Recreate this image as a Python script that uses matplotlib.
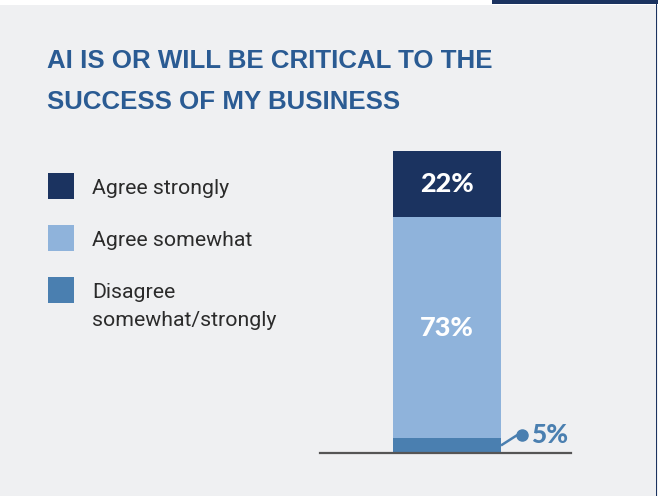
import matplotlib.pyplot as plt
from matplotlib.patches import Rectangle

# Survey answers, share of respondents (%)
CATEGORIES = [["Disagree", "somewhat/strongly"], ["Agree somewhat"],
              ["Agree strongly"]]
SHARES = [5, 73, 22]
LABELS = ["5%", "73%", "22%"]
LEGEND_ORDER = [2, 1, 0]

BG = "#eff0f2"
NAVY = "#1b3360"
LIGHT = "#8fb3db"
MID = "#4a7fb0"
TITLE_BLUE = "#2a5b93"
COLORS = [MID, LIGHT, NAVY]

W, H = 658, 496


def fx(px):
    return px / W


def fy(py):
    return 1 - py / H


fig = plt.figure(figsize=(W / 100, H / 100), dpi=100)
fig.patch.set_facecolor(BG)

# white strip along the top edge, navy tab at the right
fig.add_artist(Rectangle((0, fy(5)), 1, 5 / H, transform=fig.transFigure,
                         facecolor="white", edgecolor="none"))
fig.add_artist(Rectangle((fx(492), fy(4)), 1 - fx(492), 4 / H,
                         transform=fig.transFigure, facecolor=NAVY,
                         edgecolor="none"))
fig.add_artist(Rectangle((fx(656), 0), 1.2 / W, 1, transform=fig.transFigure,
                         facecolor=NAVY, edgecolor="none"))

# title
title_font = dict(family="Liberation Sans", weight="bold", size=18.6,
                  color=TITLE_BLUE, va="baseline", ha="left")
fig.text(fx(47), fy(68), "AI IS OR WILL BE CRITICAL TO THE", **title_font)
fig.text(fx(47), fy(109), "SUCCESS OF MY BUSINESS", **title_font)

# legend: squares + labels (one text per line)
square_tops = [173, 225, 277]
baselines = [194, 246, 298]
for row, idx in enumerate(LEGEND_ORDER):
    fig.add_artist(Rectangle((fx(48), fy(square_tops[row] + 26)), 26 / W,
                             26 / H, transform=fig.transFigure,
                             facecolor=COLORS[idx], edgecolor="none"))
    for k, line in enumerate(CATEGORIES[idx]):
        fig.text(fx(92), fy(baselines[row] + 28 * k), line, family="Roboto",
                 size=15.3, color="#2b2b2b", va="baseline", ha="left")

# stacked bar
ax = fig.add_axes([fx(320), fy(453), fx(571) - fx(320), (453 - 151) / H])
ax.set_facecolor("none")
ax.set_xlim(0, 1)
ax.set_ylim(0, sum(SHARES))
ax.axis("off")

bar_x = 0.506
bar_w = 0.43
bottom = 0
for i, share in enumerate(SHARES):
    ax.bar(bar_x, share, width=bar_w, bottom=bottom, color=COLORS[i],
           linewidth=0)
    if i > 0:
        ax.text(bar_x, bottom + share / 2, LABELS[i], color="white",
                family="Lato", weight="black", size=19.5, ha="center",
                va="center")
    bottom += share

ax.axhline(0, color="#555555", linewidth=1.6, clip_on=False)

# leader line for the small segment
right = bar_x + bar_w / 2
ax.plot([right, right + 0.064, right + 0.085],
        [SHARES[0] / 2, 5.9, 5.9], color=MID, linewidth=1.8,
        solid_capstyle="butt", clip_on=False)
ax.plot(right + 0.085, 5.9, "o", color=MID, markersize=8, clip_on=False)
ax.text(right + 0.118, 5.9, LABELS[0], color=MID, family="Lato",
        weight="black", size=19, ha="left", va="center")

fig.savefig("out.png", dpi=100, facecolor=BG)
